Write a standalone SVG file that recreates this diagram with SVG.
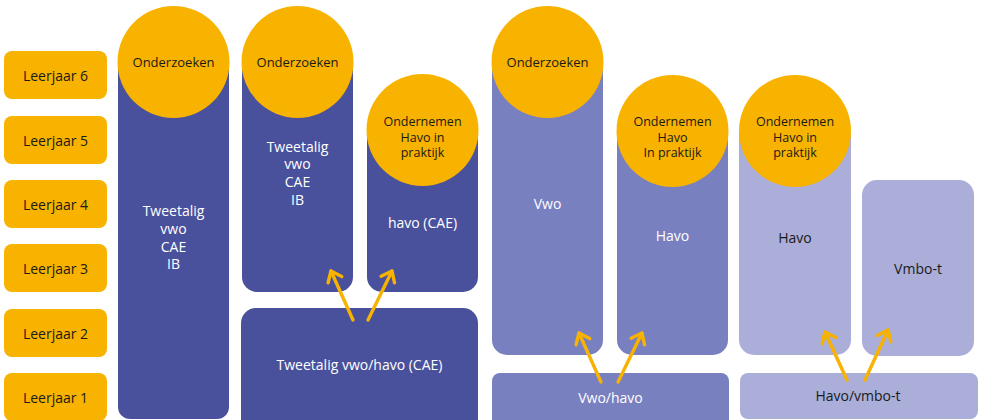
<svg xmlns="http://www.w3.org/2000/svg" width="981" height="420" viewBox="0 0 981 420">
  <style>
    text { font-family: "Open Sans", "Noto Sans", sans-serif; text-anchor: middle; dominant-baseline: central; }
    .yr { fill: #F8B200; }
    .yrt { font-size: 14px; fill: #1a1a1a; }
    .c { fill: #F8B200; }
    .ct { font-size: 13px; fill: #1a1a1a; }
    .ct3 { font-size: 12.5px; fill: #1a1a1a; }
    .dk { fill: #4A519C; }
    .md { fill: #7980C0; }
    .lt { fill: #AAAED9; }
    .wt { font-size: 14px; fill: #ffffff; }
    .bt { font-size: 14px; fill: #1a1a1a; }
    .arr { stroke: #F8B200; stroke-width: 3.4; fill: none; stroke-linecap: round; }
  </style>
  <defs>
    <marker id="ah" viewBox="-12 -10 14 20" refX="0" refY="0" markerWidth="14" markerHeight="20" markerUnits="userSpaceOnUse" orient="auto">
      <path d="M-9.5,-7.5 L0,0 L-9.5,7.5" fill="none" stroke="#F8B200" stroke-width="3.4" stroke-linecap="round" stroke-linejoin="round"/>
    </marker>
  </defs>
  <rect width="981" height="420" fill="#ffffff"/>

  <g id="leerjaar6"><rect class="yr" x="4" y="51" width="103" height="48" rx="8"/><text class="yrt" x="55.5" y="75">Leerjaar 6</text></g>
  <g id="leerjaar5"><rect class="yr" x="4" y="116" width="103" height="48" rx="8"/><text class="yrt" x="55.5" y="140">Leerjaar 5</text></g>
  <g id="leerjaar4"><rect class="yr" x="4" y="180" width="103" height="48" rx="8"/><text class="yrt" x="55.5" y="204">Leerjaar 4</text></g>
  <g id="leerjaar3"><rect class="yr" x="4" y="244" width="103" height="48" rx="8"/><text class="yrt" x="55.5" y="268">Leerjaar 3</text></g>
  <g id="leerjaar2"><rect class="yr" x="4" y="309" width="103" height="48" rx="8"/><text class="yrt" x="55.5" y="333">Leerjaar 2</text></g>
  <g id="leerjaar1"><rect class="yr" x="4" y="373" width="103" height="48" rx="8"/><text class="yrt" x="55.5" y="397">Leerjaar 1</text></g>

  <g id="col1">
    <path class="dk" d="M118,62 H229 V407 A12,12 0 0 1 217,419 H130 A12,12 0 0 1 118,407 Z"/>
    <circle class="c" cx="173.5" cy="62" r="56"/>
    <text class="ct" x="173.5" y="62">Onderzoeken</text>
    <text class="wt" x="173.5" y="210"><tspan x="173.5" y="210">Tweetalig</tspan><tspan x="173.5" y="227.8">vwo</tspan><tspan x="173.5" y="245.6">CAE</tspan><tspan x="173.5" y="263.4">IB</tspan></text>
  </g>

  <g id="col2">
    <path class="dk" d="M242,62 H353 V277 A15,15 0 0 1 338,292 H257 A15,15 0 0 1 242,277 Z"/>
    <circle class="c" cx="297.5" cy="62" r="56"/>
    <text class="ct" x="297.5" y="62">Onderzoeken</text>
    <text class="wt" x="297.5" y="145.5"><tspan x="297.5" y="145.5">Tweetalig</tspan><tspan x="297.5" y="163.3">vwo</tspan><tspan x="297.5" y="181.1">CAE</tspan><tspan x="297.5" y="198.9">IB</tspan></text>
  </g>

  <g id="col3">
    <path class="dk" d="M367,130 H478 V277 A15,15 0 0 1 463,292 H382 A15,15 0 0 1 367,277 Z"/>
    <circle class="c" cx="422.5" cy="130" r="56"/>
    <text class="ct3" x="422.5" y="121"><tspan x="422.5" y="121">Ondernemen</tspan><tspan x="422.5" y="136.5">Havo in</tspan><tspan x="422.5" y="152">praktijk</tspan></text>
    <text class="wt" x="422.5" y="222">havo (CAE)</text>
  </g>

  <g id="bottom1">
    <rect class="dk" x="241" y="308" width="237" height="126" rx="15"/>
    <text class="wt" x="359.5" y="364">Tweetalig vwo/havo (CAE)</text>
  </g>

  <g id="col4">
    <path class="md" d="M492,62 H603 V340 A15,15 0 0 1 588,355 H507 A15,15 0 0 1 492,340 Z"/>
    <circle class="c" cx="547.5" cy="62" r="56"/>
    <text class="ct" x="547.5" y="62">Onderzoeken</text>
    <text class="wt" x="547.5" y="203">Vwo</text>
  </g>

  <g id="col5">
    <path class="md" d="M617,131 H728 V340 A15,15 0 0 1 713,355 H632 A15,15 0 0 1 617,340 Z"/>
    <circle class="c" cx="672.5" cy="131" r="56"/>
    <text class="ct3" x="672.5" y="121"><tspan x="672.5" y="121">Ondernemen</tspan><tspan x="672.5" y="136.5">Havo</tspan><tspan x="672.5" y="152">In praktijk</tspan></text>
    <text class="wt" x="672.5" y="235">Havo</text>
  </g>

  <g id="bottom2">
    <rect class="md" x="492" y="373" width="237" height="60" rx="8"/>
    <text class="wt" x="610.5" y="397">Vwo/havo</text>
  </g>

  <g id="col6">
    <path class="lt" d="M739,131 H851 V340 A15,15 0 0 1 836,355 H754 A15,15 0 0 1 739,340 Z"/>
    <circle class="c" cx="795" cy="131" r="56"/>
    <text class="ct3" x="795" y="121"><tspan x="795" y="121">Ondernemen</tspan><tspan x="795" y="136.5">Havo in</tspan><tspan x="795" y="152">praktijk</tspan></text>
    <text class="bt" x="795" y="237">Havo</text>
  </g>

  <g id="col7">
    <rect class="lt" x="862" y="180" width="112" height="176" rx="15"/>
    <text class="bt" x="918" y="268">Vmbo-t</text>
  </g>

  <g id="bottom3">
    <rect class="lt" x="740" y="373" width="238" height="46" rx="8"/>
    <text class="bt" x="858" y="395">Havo/vmbo-t</text>
  </g>

  <g id="connectors">
    <line class="arr" x1="353" y1="320" x2="331" y2="271" marker-end="url(#ah)"/>
    <line class="arr" x1="368" y1="320" x2="392" y2="271" marker-end="url(#ah)"/>
    <line class="arr" x1="601" y1="382" x2="579" y2="333" marker-end="url(#ah)"/>
    <line class="arr" x1="618" y1="382" x2="642" y2="333" marker-end="url(#ah)"/>
    <line class="arr" x1="847" y1="380" x2="825" y2="332" marker-end="url(#ah)"/>
    <line class="arr" x1="865" y1="380" x2="888" y2="330" marker-end="url(#ah)"/>
  </g>
</svg>
